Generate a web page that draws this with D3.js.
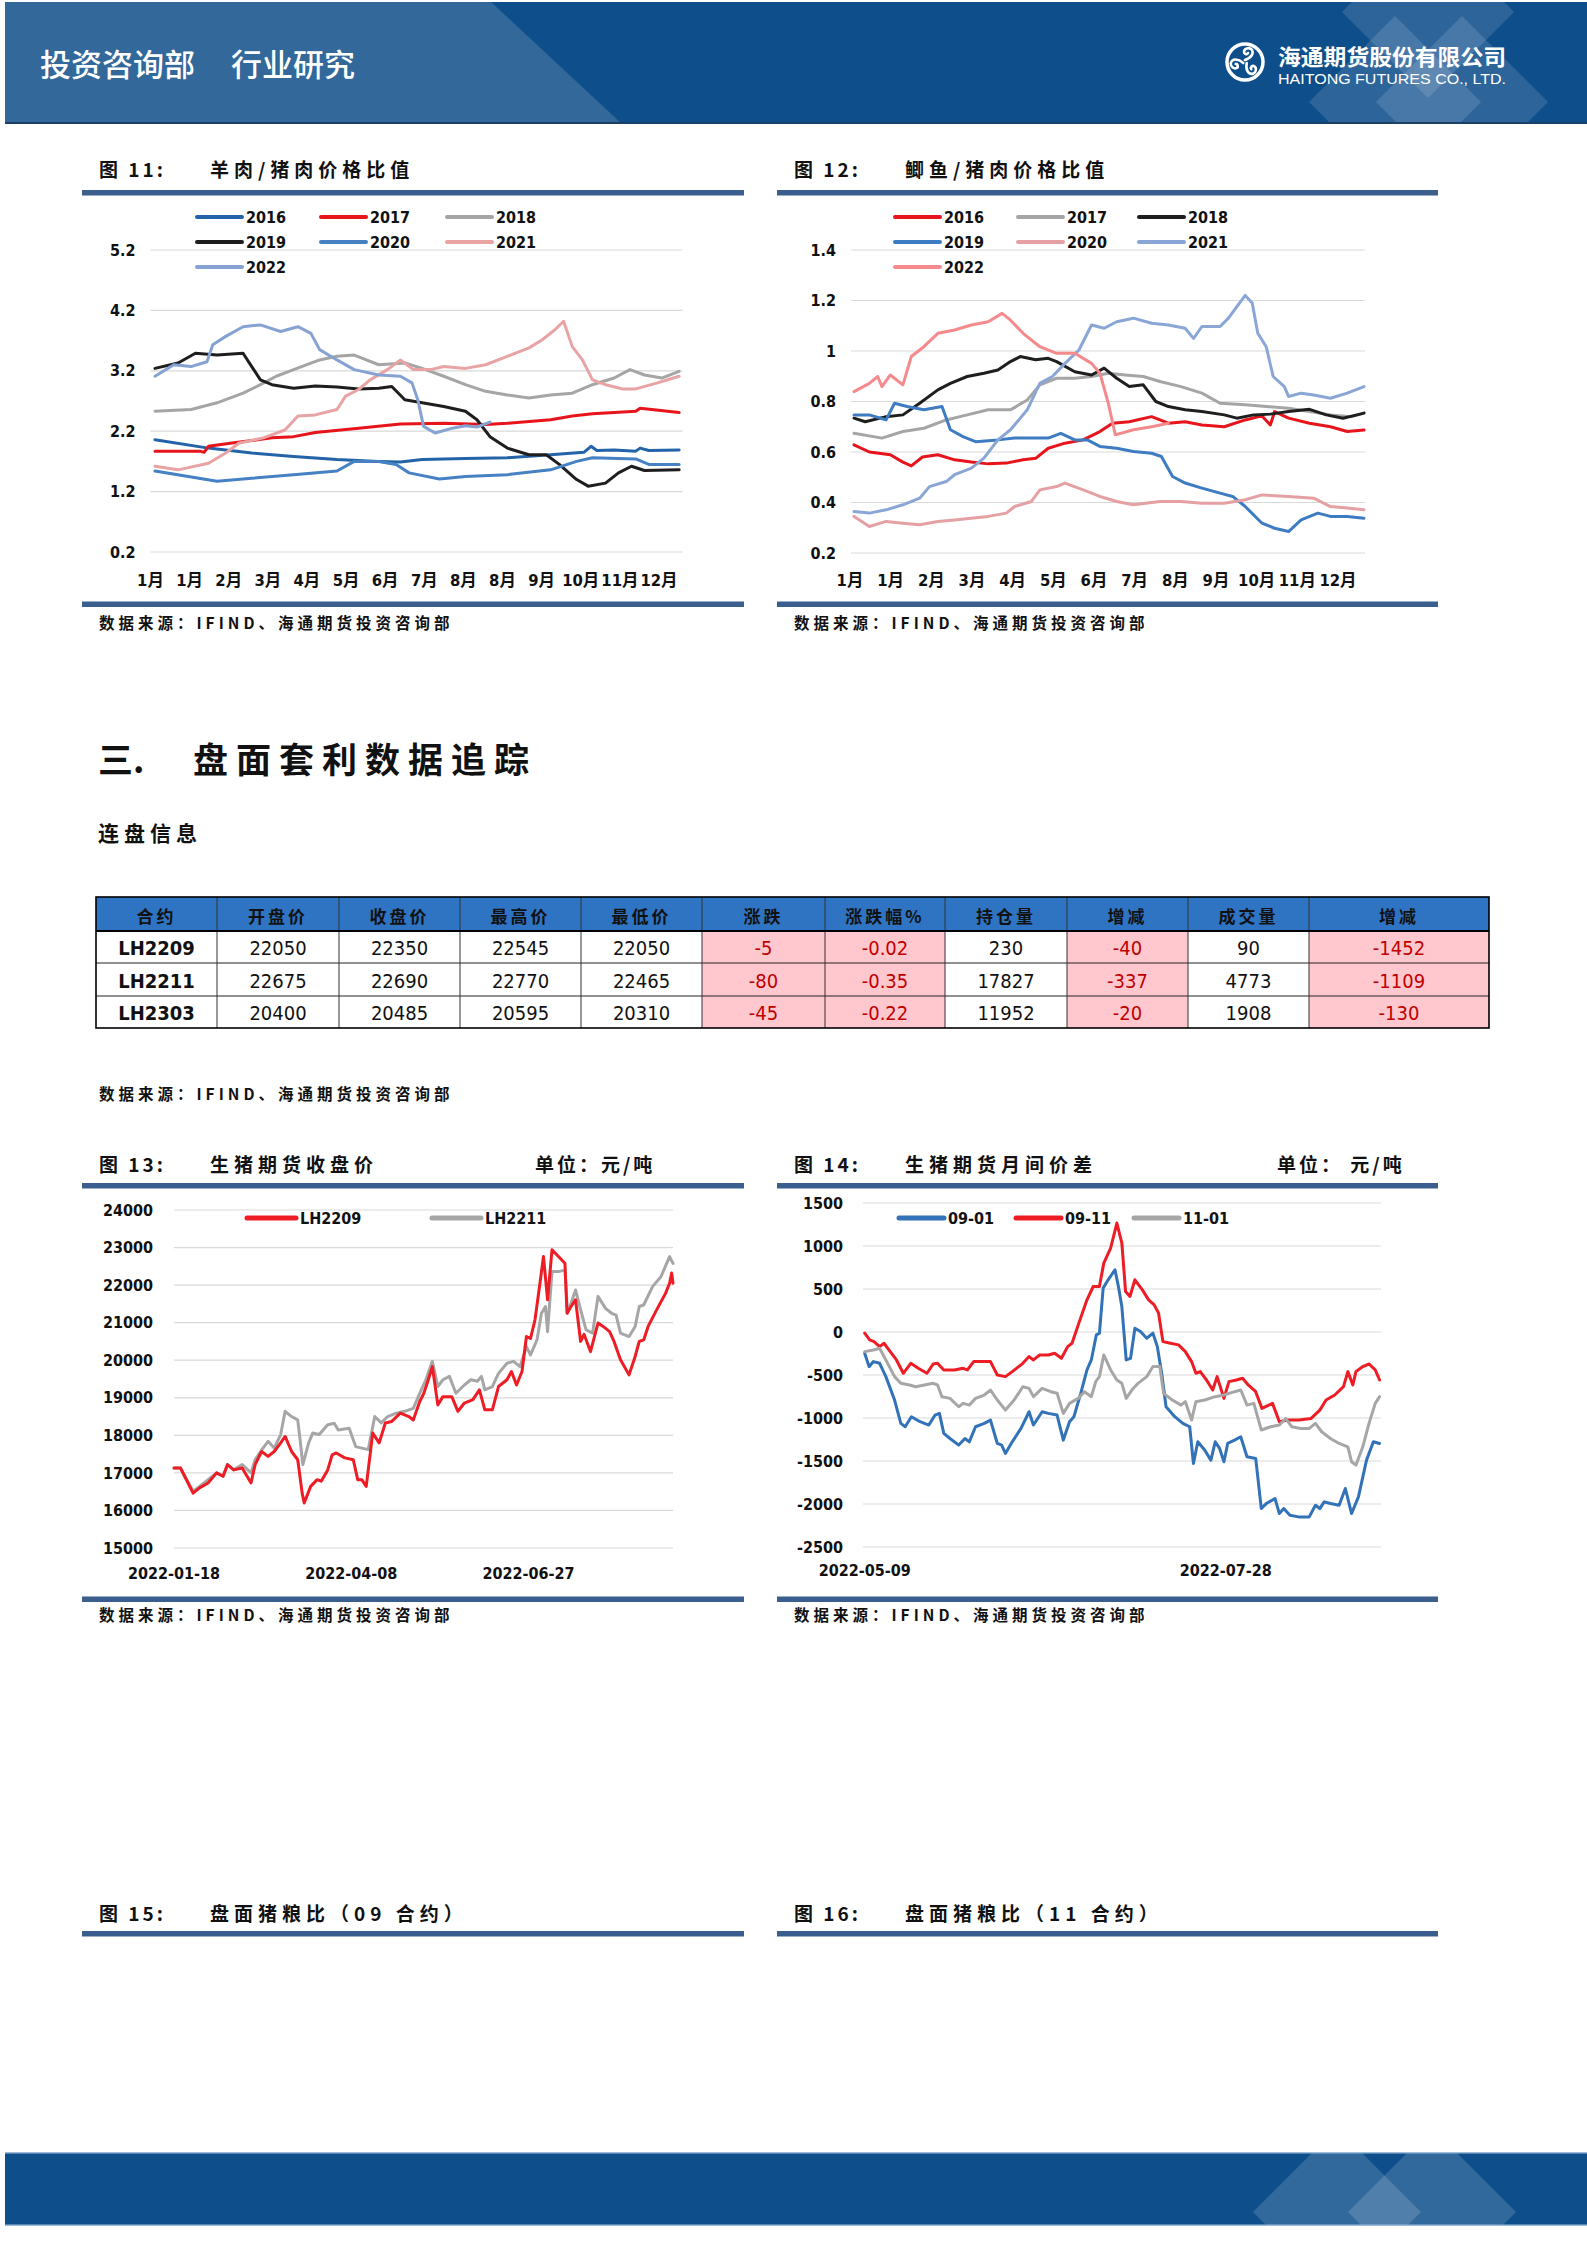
<!DOCTYPE html>
<html><head><meta charset="utf-8">
<script src="https://cdn.jsdelivr.net/npm/d3@7"></script>
<style>
body{margin:0;background:#fff}
svg{display:block}
</style>
</head><body>
<svg id="page" width="1587" height="2245"></svg>
<script>
// ================= DATA =================
// Fig 11: mutton / pork price ratio, [day of year, value]
const mutYears = ["2016","2017","2018","2019","2020","2021","2022"];
const mut2016 = [[0,2.06],[37,1.92],[67,1.84],[96,1.78],[126,1.73],[155,1.70],[170,1.69],[185,1.73],[215,1.75],[244,1.76],[274,1.81],[297,1.85],[302,1.95],[306,1.88],[318,1.89],[333,1.87],[336,1.92],[342,1.88],[363,1.89]];
const mut2017 = [[0,1.87],[31,1.87],[34,1.85],[37,1.95],[52,2.0],[81,2.09],[96,2.11],[111,2.18],[141,2.25],[170,2.32],[200,2.33],[229,2.31],[244,2.33],[274,2.39],[289,2.45],[303,2.49],[333,2.53],[336,2.58],[363,2.51]];
const mut2018 = [[0,2.53],[25,2.56],[43,2.67],[61,2.83],[73,2.97],[84,3.11],[96,3.22],[114,3.38],[126,3.44],[138,3.46],[155,3.30],[173,3.33],[185,3.24],[200,3.11],[215,2.97],[229,2.86],[244,2.80],[259,2.75],[274,2.80],[289,2.83],[303,2.97],[318,3.08],[329,3.22],[339,3.13],[351,3.08],[363,3.19]];
const mut2019 = [[0,3.24],[16,3.33],[28,3.49],[43,3.46],[61,3.49],[67,3.27],[73,3.05],[81,2.97],[96,2.91],[111,2.95],[126,2.93],[141,2.90],[155,2.91],[164,2.94],[173,2.72],[185,2.67],[200,2.61],[215,2.53],[223,2.39],[232,2.11],[244,1.92],[259,1.81],[271,1.81],[280,1.65],[292,1.40],[300,1.29],[312,1.34],[321,1.51],[330,1.62],[339,1.55],[363,1.56]];
const mut2020 = [[0,1.54],[43,1.37],[67,1.42],[96,1.48],[126,1.54],[138,1.70],[155,1.70],[167,1.65],[176,1.51],[197,1.41],[215,1.45],[244,1.48],[274,1.56],[292,1.70],[303,1.76],[333,1.74],[342,1.65],[363,1.65]];
const mut2021 = [[0,1.62],[16,1.56],[37,1.67],[49,1.84],[58,2.0],[75,2.09],[90,2.22],[99,2.45],[111,2.47],[126,2.56],[132,2.78],[141,2.89],[149,3.05],[161,3.22],[170,3.38],[179,3.22],[191,3.22],[200,3.27],[215,3.24],[229,3.30],[244,3.44],[259,3.58],[268,3.71],[277,3.88],[283,4.02],[289,3.60],[296,3.38],[303,3.05],[312,2.97],[324,2.90],[333,2.90],[348,3.0],[363,3.11]];
const mut2022 = [[0,3.11],[13,3.30],[25,3.27],[36,3.35],[40,3.63],[49,3.77],[61,3.93],[73,3.96],[87,3.85],[99,3.93],[108,3.82],[114,3.55],[126,3.38],[138,3.22],[155,3.13],[170,3.11],[178,3.0],[182,2.72],[186,2.28],[194,2.17],[206,2.25],[215,2.29],[223,2.27],[232,2.35]];
const mutTicks = [0.2,1.2,2.2,3.2,4.2,5.2];
const mutMonths = ["1月","1月","2月","3月","4月","5月","6月","7月","8月","8月","9月","10月","11月","12月"];

// Fig 12: crucian carp / pork price ratio
const carpYears = ["2016","2017","2018","2019","2020","2021","2022"];
const carp2016 = [[0,0.628],[11,0.60],[26,0.589],[35,0.56],[41,0.545],[49,0.58],[60,0.589],[72,0.569],[84,0.56],[96,0.553],[109,0.556],[121,0.569],[130,0.575],[139,0.615],[151,0.635],[164,0.648],[176,0.681],[185,0.714],[197,0.72],[213,0.74],[225,0.714],[237,0.72],[249,0.707],[265,0.70],[280,0.727],[292,0.743],[298,0.707],[301,0.76],[311,0.734],[326,0.714],[341,0.70],[353,0.681],[365,0.687]];
const carp2017 = [[0,0.674],[20,0.655],[35,0.681],[50,0.694],[66,0.727],[81,0.747],[96,0.767],[112,0.767],[124,0.806],[133,0.866],[145,0.892],[158,0.892],[170,0.899],[182,0.912],[194,0.905],[207,0.899],[219,0.879],[234,0.859],[249,0.833],[262,0.793],[280,0.787],[295,0.78],[311,0.773],[341,0.747],[356,0.740],[365,0.754]];
const carp2018 = [[0,0.734],[8,0.72],[23,0.74],[35,0.747],[47,0.793],[60,0.846],[69,0.872],[81,0.899],[93,0.912],[103,0.925],[112,0.958],[119,0.978],[130,0.965],[139,0.971],[145,0.958],[158,0.918],[170,0.905],[179,0.932],[188,0.892],[197,0.859],[207,0.866],[216,0.80],[225,0.78],[237,0.767],[249,0.76],[265,0.747],[274,0.734],[286,0.747],[298,0.75],[311,0.76],[326,0.769],[338,0.747],[350,0.734],[360,0.747],[365,0.754]];
const carp2019 = [[0,0.747],[11,0.747],[23,0.727],[29,0.793],[38,0.78],[50,0.767],[63,0.78],[69,0.688],[78,0.661],[87,0.641],[103,0.648],[115,0.655],[139,0.655],[148,0.674],[158,0.648],[167,0.648],[176,0.622],[188,0.615],[200,0.602],[213,0.595],[220,0.582],[228,0.503],[237,0.477],[249,0.457],[262,0.437],[271,0.424],[280,0.384],[292,0.318],[301,0.298],[311,0.285],[320,0.331],[332,0.358],[341,0.345],[353,0.345],[365,0.338]];
const carp2020 = [[0,0.345],[11,0.305],[23,0.325],[35,0.318],[47,0.312],[60,0.325],[72,0.331],[84,0.338],[96,0.345],[109,0.358],[115,0.384],[127,0.404],[133,0.45],[145,0.463],[151,0.477],[164,0.45],[176,0.424],[188,0.404],[200,0.391],[219,0.404],[234,0.404],[249,0.397],[265,0.397],[280,0.411],[292,0.43],[311,0.424],[329,0.417],[341,0.384],[353,0.378],[365,0.371]];
const carp2021 = [[0,0.364],[11,0.358],[23,0.371],[35,0.391],[47,0.417],[54,0.463],[66,0.483],[72,0.51],[84,0.536],[93,0.576],[103,0.648],[112,0.688],[124,0.767],[133,0.872],[142,0.899],[151,0.951],[161,1.004],[170,1.103],[179,1.09],[188,1.116],[200,1.13],[213,1.11],[225,1.103],[237,1.09],[243,1.05],[249,1.097],[262,1.097],[268,1.13],[274,1.176],[280,1.22],[285,1.19],[289,1.07],[295,1.017],[300,0.899],[308,0.859],[311,0.82],[320,0.833],[329,0.826],[341,0.813],[353,0.833],[365,0.859]];
const carp2022 = [[0,0.839],[11,0.872],[17,0.899],[20,0.859],[26,0.905],[35,0.866],[41,0.978],[50,1.017],[60,1.07],[72,1.083],[84,1.103],[96,1.116],[106,1.149],[112,1.122],[121,1.07],[133,1.017],[145,0.991],[158,0.991],[170,0.951],[176,0.912],[182,0.793],[187,0.668],[200,0.688],[213,0.70],[225,0.714]];
const carpTicks = [0.2,0.4,0.6,0.8,1.0,1.2,1.4];
const carpMonths = ["1月","1月","2月","3月","4月","5月","6月","7月","8月","9月","10月","11月","12月"];

// Table: 连盘信息
const tableHeader = ["合约","开盘价","收盘价","最高价","最低价","涨跌","涨跌幅%","持仓量","增减","成交量","增减"];
const contracts = ["LH2209","LH2211","LH2303"];
const openPx = [22050,22675,20400];
const closePx = [22350,22690,20485];
const highPx = [22545,22770,20595];
const lowPx = [22050,22465,20310];
const priceChg = [-5,-80,-45];
const priceChgPct = ["-0.02","-0.35","-0.22"];
const openInt = [230,17827,11952];
const openIntChg = [-40,-337,-20];
const volume = [90,4773,1908];
const volumeChg = [-1452,-1109,-130];

// Fig 13: hog futures close, [trading-day index, price]
const futNames = ["LH2209","LH2211"];
const lh2209 = [[0,17130],[1.9,17130],[5.6,16460],[7.5,16600],[10,16730],[12.5,17000],[14.4,16910],[15.7,17220],[17.5,17080],[20,17130],[22.6,16730],[23.8,17220],[25.7,17570],[27.6,17440],[29.4,17570],[31.3,17800],[32.6,17970],[34.5,17570],[36.3,17350],[37.6,16460],[38.2,16200],[40.1,16640],[42,16820],[43.2,16780],[45.1,17080],[46.4,17480],[47.6,17530],[50.1,17400],[52.6,17350],[53.9,16820],[55.1,16820],[56.4,16640],[58.3,18060],[60.2,17800],[62,18330],[63.9,18370],[66.4,18590],[68.9,18500],[70.2,18410],[72.1,18900],[73.3,19120],[74.6,19480],[75.8,19830],[77.4,18810],[78.9,19030],[81.5,19030],[83.3,18640],[85.2,18860],[87.7,18950],[89.6,19210],[91.2,18680],[93.4,18680],[95.2,19300],[97.7,19480],[99,19700],[100.5,19340],[102.1,19700],[103.4,20630],[104.6,20580],[105.9,21070],[107.1,21870],[108.4,22760],[109.6,21610],[110.9,22940],[112.8,22760],[114.7,22580],[115.3,21250],[116.5,21430],[117.8,21610],[119.3,20500],[120.3,20690],[122.2,20230],[124.4,20990],[125.9,20900],[127.8,20760],[129.1,20500],[131,20010],[133.5,19610],[135.3,20100],[136.5,20500],[137.8,20540],[139.1,20900],[141.6,21340],[144.2,21780],[145.4,22050],[146,22320],[146.4,22050]];
const lh2211 = [[0,17130],[1.9,17130],[5.6,16510],[7.5,16640],[10,16820],[12.5,17000],[14.4,16910],[15.7,17220],[17.5,17080],[20,17220],[22.6,17000],[23.8,17350],[25.7,17610],[27.6,17840],[29.4,17660],[31.3,18020],[32.6,18640],[34.5,18500],[36.3,18410],[37,17880],[37.8,17220],[39.5,17800],[40.7,18060],[42.6,18020],[45.1,18280],[47,18320],[48.2,18140],[51.4,18190],[53.3,17700],[55.1,17660],[57,17620],[58.9,18500],[60.8,18330],[62.7,18500],[65.2,18590],[67.7,18640],[70.2,18720],[72.1,19120],[73.9,19480],[75.8,19970],[77.4,19300],[78.9,19480],[80.8,19570],[82.7,19120],[85.2,19340],[87.1,19480],[89,19440],[90.2,19570],[91.2,19210],[93.4,19300],[95.2,19650],[97.7,19920],[99.6,19970],[101.5,19830],[103.4,20360],[104.6,20140],[106.5,20540],[107.8,21250],[109,21430],[109.6,20760],[110.9,22360],[112.8,22360],[114.7,22400],[115.5,21250],[117.8,21870],[119.3,21340],[120.9,20810],[122.8,20720],[124.4,21700],[126.6,21380],[128.4,21250],[129.7,21200],[131,20720],[133.5,20630],[135.3,20900],[136.5,21430],[137.8,21470],[140.4,21960],[142.9,22230],[145.4,22760],[146.4,22580]];
const futTicks = [15000,16000,17000,18000,19000,20000,21000,22000,23000,24000];
const futDateIdx = [0,52,104];
const futDates = ["2022-01-18","2022-04-08","2022-06-27"];

// Fig 14: inter-month spreads
const sprNames = ["09-01","09-11","11-01"];
const spr0901 = [[0,-247],[0.7,-403],[1.4,-344],[2.4,-364],[3.4,-519],[4.8,-791],[5.8,-1063],[6.5,-1102],[7.5,-985],[8.9,-1043],[10.3,-1082],[11.3,-966],[12,-946],[12.7,-1179],[13.7,-1238],[15.1,-1315],[16.1,-1238],[16.8,-1277],[17.8,-1102],[19.2,-1063],[20.2,-1024],[21.3,-1296],[22,-1315],[22.6,-1412],[23.7,-1277],[25.1,-1121],[26.4,-927],[27.1,-1082],[28.5,-927],[29.5,-946],[30.9,-966],[31.9,-1257],[32.9,-1043],[33.6,-985],[34.7,-713],[35.7,-441],[36.4,-325],[37.2,-34],[37.7,-14],[38.3,510],[39.1,607],[40.2,724],[40.8,510],[41.3,296],[42,-325],[42.7,-306],[43.4,44],[44.3,5],[45.3,-73],[46.3,-14],[47,-170],[47.7,-480],[48.4,-869],[49.8,-985],[51.1,-1063],[52.2,-1102],[52.8,-1529],[53.5,-1277],[54.6,-1373],[55.6,-1490],[56.3,-1277],[57,-1354],[57.7,-1509],[58.3,-1296],[59.4,-1257],[60.4,-1218],[61.4,-1451],[62.8,-1470],[63.7,-2053],[64.5,-1995],[65.9,-1936],[66.6,-2111],[67.3,-2053],[68.3,-2131],[69.7,-2150],[71.4,-2150],[72.4,-2014],[73.1,-2053],[73.8,-1975],[74.8,-1995],[76.2,-2014],[77.2,-1820],[78.2,-2111],[79.3,-1917],[80.6,-1490],[81.7,-1277],[82.7,-1296]];
const spr0911 = [[0,-14],[0.8,-92],[1.5,-112],[2.4,-170],[3.1,-131],[4.1,-228],[5.1,-325],[6.2,-480],[7.4,-364],[8.6,-422],[10,-480],[11,-372],[11.7,-364],[12.7,-441],[14.4,-441],[15.8,-422],[16.5,-441],[17.5,-344],[20.2,-344],[21.3,-500],[22.6,-519],[23.7,-461],[25.4,-364],[26.4,-286],[27.1,-325],[28.1,-267],[29.5,-267],[30.5,-247],[31.6,-306],[32.6,-170],[33.3,-131],[34.3,83],[35.7,374],[36.7,529],[37.7,529],[38.4,801],[39.5,976],[40.5,1267],[41.3,1034],[41.9,471],[42.6,413],[43.4,607],[44.6,490],[45.6,374],[46.5,316],[47.2,219],[47.9,-112],[49.1,-131],[50.4,-150],[51.5,-228],[52.5,-344],[53.2,-480],[53.9,-461],[54.9,-558],[55.9,-675],[56.6,-519],[57.7,-772],[58.5,-577],[59.7,-558],[60.7,-538],[61.6,-616],[62.8,-694],[63.8,-888],[65.5,-830],[66.6,-1043],[67.9,-1024],[69.7,-1024],[71.7,-1005],[73.1,-908],[74.1,-791],[75.5,-733],[76.9,-636],[77.6,-461],[78.4,-616],[78.9,-461],[80,-402],[81,-372],[82,-441],[82.7,-558]];
const spr1101 = [[0,-228],[1.4,-209],[2.4,-189],[3.4,-325],[4.8,-519],[5.8,-597],[7.2,-616],[8.2,-636],[9.6,-616],[11,-597],[11.7,-616],[12.4,-752],[13.7,-772],[15.1,-869],[15.8,-830],[16.8,-850],[17.8,-772],[19.2,-733],[20.2,-675],[21.3,-791],[22.6,-908],[24,-791],[25.4,-636],[26.4,-655],[27.1,-752],[28.5,-655],[29.9,-694],[30.9,-713],[31.9,-946],[32.9,-830],[34.3,-772],[35.3,-694],[36.4,-752],[37.1,-578],[37.7,-519],[38.4,-267],[39.5,-441],[40.5,-558],[41.3,-597],[42,-772],[42.9,-675],[43.9,-597],[45.3,-519],[46.3,-402],[47.4,-402],[48,-713],[49.4,-791],[50.8,-850],[51.5,-810],[52.5,-1024],[53.2,-810],[54.6,-791],[56.3,-752],[57.7,-733],[59.4,-694],[60.4,-675],[61.4,-850],[62.5,-830],[63.7,-1140],[65.2,-1102],[66.6,-1082],[67.6,-1005],[68.6,-1102],[70,-1121],[71.4,-1121],[72.4,-1063],[73.4,-1160],[74.8,-1238],[76.2,-1296],[77.6,-1335],[78.2,-1509],[78.9,-1548],[80,-1335],[81,-1063],[82,-830],[82.7,-752]];
const sprTicks = [-2500,-2000,-1500,-1000,-500,0,500,1000,1500];
const sprDateIdx = [0,58];
const sprDates = ["2022-05-09","2022-07-28"];

// ================= DRAWING =================
const svg = d3.select('#page');
const NUM = '"DejaVu Sans Condensed","DejaVu Sans","Noto Sans CJK SC",sans-serif';
const CN = '"Noto Sans CJK SC","Noto Sans CJK JP",sans-serif';
const RULE = '#3a5f8e';
const GRID = '#d9d9d9';
const SRC = '数据来源：IFIND、海通期货投资咨询部';

function diamondPts(cx, cy, r){ return [[cx,cy-r],[cx+r,cy],[cx,cy+r],[cx-r,cy]].map(p=>p.join(',')).join(' '); }

// ----- header band -----
const defs = svg.append('defs');
defs.append('clipPath').attr('id','hdrClip').append('rect').attr('x',5).attr('y',2).attr('width',1582).attr('height',122);
defs.append('clipPath').attr('id','ftrClip').append('rect').attr('x',5).attr('y',2153).attr('width',1582).attr('height',72);
const hdr = svg.append('g');
hdr.append('rect').attr('x',5).attr('y',2).attr('width',1582).attr('height',122).attr('fill','#0e4f8b');
hdr.append('polygon').attr('points','5,2 491,2 622,124 5,124').attr('fill','#33689b');
const hd = hdr.append('g').attr('clip-path','url(#hdrClip)');
[[1395,102],[1462,102],[1428,12]].forEach(c=>hd.append('polygon').attr('points',diamondPts(c[0],c[1],86)).attr('fill','#ffffff').attr('fill-opacity',0.13));
hdr.append('rect').attr('x',5).attr('y',122).attr('width',1582).attr('height',2).attr('fill','#1c3f66');
hdr.append('text').attr('x',40).attr('y',62).attr('dominant-baseline','central').attr('fill','#fff')
  .style('font-family',CN).style('font-size','31px').style('font-weight',500).text('投资咨询部');
hdr.append('text').attr('x',231).attr('y',62).attr('dominant-baseline','central').attr('fill','#fff')
  .style('font-family',CN).style('font-size','31px').style('font-weight',500).text('行业研究');
// logo
const logo = hdr.append('g').attr('transform','translate(1245,62)');
logo.append('circle').attr('r',18).attr('fill','none').attr('stroke','#fff').attr('stroke-width',3.5);
[0,120,240].forEach(a=>{
  logo.append('path').attr('transform',`rotate(${a})`).attr('d','M0,-2 C6,-4 10,-9 6,-13 C3,-15 -1,-13 -1,-10 C-1,-8 2,-7 3,-9')
    .attr('fill','none').attr('stroke','#fff').attr('stroke-width',2.6).attr('stroke-linecap','round');
});
hdr.append('text').attr('x',1278).attr('y',55).attr('dominant-baseline','central').attr('fill','#fff')
  .attr('textLength',228).attr('lengthAdjust','spacingAndGlyphs')
  .style('font-family',CN).style('font-size','22px').style('font-weight',700).text('海通期货股份有限公司');
hdr.append('text').attr('x',1278).attr('y',84).attr('fill','#fff')
  .attr('textLength',228).attr('lengthAdjust','spacingAndGlyphs')
  .style('font-family','"Liberation Sans",Arial,sans-serif').style('font-size','15px').text('HAITONG FUTURES CO., LTD.');

// ----- footer band -----
const ftr = svg.append('g');
ftr.append('rect').attr('x',5).attr('y',2153).attr('width',1582).attr('height',72).attr('fill','#0e4f8b');
const fd = ftr.append('g').attr('clip-path','url(#ftrClip)');
[[1337,2212],[1432,2212]].forEach(c=>fd.append('polygon').attr('points',diamondPts(c[0],c[1],84)).attr('fill','#ffffff').attr('fill-opacity',0.15));
ftr.append('rect').attr('x',5).attr('y',2152).attr('width',1582).attr('height',1.5).attr('fill','#9dbcdc');
ftr.append('rect').attr('x',5).attr('y',2224.5).attr('width',1582).attr('height',1.5).attr('fill','#9dbcdc');

// ----- helpers -----
function figTitle(xNum, xText, y, num, text){
  svg.append('text').attr('x',xNum).attr('y',y).attr('dominant-baseline','central').attr('fill','#111')
    .style('font-family',CN).style('font-size','19px').style('font-weight',700).style('letter-spacing','3px').text('图 '+num+':');
  svg.append('text').attr('x',xText).attr('y',y).attr('dominant-baseline','central').attr('fill','#111')
    .style('font-family',CN).style('font-size','19px').style('font-weight',700).style('letter-spacing','5px').text(text);
}
function rule(x0,x1,y,h){ svg.append('rect').attr('x',x0).attr('y',y).attr('width',x1-x0).attr('height',h).attr('fill',RULE); }
function source(x,y){
  svg.append('text').attr('x',x).attr('y',y).attr('dominant-baseline','central').attr('fill','#111')
    .style('font-family',CN).style('font-size','15.5px').style('font-weight',700).style('letter-spacing','4px').text(SRC);
}
function grid(g, y, ticks, x0, x1){
  g.selectAll(null).data(ticks).join('line')
    .attr('x1',x0).attr('x2',x1).attr('y1',d=>y(d)).attr('y2',d=>y(d))
    .attr('stroke',GRID).attr('stroke-width',1.2);
}
function yAxis(g, y, ticks, xAt, pad, fmt){
  const ax = g.append('g').attr('transform',`translate(${xAt},0)`)
    .call(d3.axisLeft(y).tickValues(ticks).tickSize(0).tickPadding(pad).tickFormat(fmt));
  ax.select('.domain').remove();
  ax.selectAll('text').style('font-family',NUM).style('font-size','16px').style('font-weight',700).attr('fill','#111');
}
function lines(g, series, colors, x, y, w){
  const ln = d3.line().x(d=>x(d[0])).y(d=>y(d[1]));
  series.forEach((s,i)=>g.append('path').datum(s).attr('d',ln).attr('fill','none')
    .attr('stroke',colors[i]).attr('stroke-width',w).attr('stroke-linejoin','round').attr('stroke-linecap','round'));
}
function legend(g, names, colors, colX, rowY, len, w){
  names.forEach((n,i)=>{
    const cx = colX[i%colX.length], cy = rowY[Math.floor(i/colX.length)];
    g.append('line').attr('x1',cx).attr('x2',cx+len).attr('y1',cy).attr('y2',cy)
      .attr('stroke',colors[i]).attr('stroke-width',w).attr('stroke-linecap','round');
    g.append('text').attr('x',cx+len+4).attr('y',cy).attr('dominant-baseline','central').attr('fill','#111')
      .style('font-family',NUM).style('font-size','16px').style('font-weight',700).text(n);
  });
}
function monthLabels(g, labels, x0, x1, y){
  const xs = d3.scalePoint().domain(d3.range(labels.length)).range([x0,x1]);
  g.selectAll(null).data(labels).join('text')
    .attr('x',(d,i)=>xs(i)).attr('y',y).attr('text-anchor','middle').attr('dominant-baseline','central')
    .attr('fill','#111').style('font-family',NUM).style('font-size','16.5px').style('font-weight',700).text(d=>d);
}
const plainNum = d => String(d);

// ----- Fig 11 -----
figTitle(99,210,168,'11','羊肉/猪肉价格比值');
rule(82,744,190,5.5); rule(82,744,601.5,5.5);
source(99,622);
{
  const g = svg.append('g');
  const x = d3.scaleLinear().domain([0,365]).range([155,682]);
  const y = d3.scaleLinear().domain([0.2,5.2]).range([552,250]);
  grid(g,y,mutTicks,150.5,682.5);
  yAxis(g,y,mutTicks,150.5,15,d3.format('.1f'));
  monthLabels(g,mutMonths,150.5,659,580);
  const colors = ['#2363a8','#e8141b','#a5a5a5','#1e1e1e','#4581c3','#e8a3a5','#86a2d2'];
  lines(g,[mut2016,mut2017,mut2018,mut2019,mut2020,mut2021,mut2022],colors,x,y,3);
  legend(g,mutYears,colors,[197,321,447],[217,242,267],45,4);
}

// ----- Fig 12 -----
figTitle(794,905,168,'12','鲫鱼/猪肉价格比值');
rule(777,1438,190,5.5); rule(777,1438,601.5,5.5);
source(794,622);
{
  const g = svg.append('g');
  const x = d3.scaleLinear().domain([0,365]).range([854,1364]);
  const y = d3.scaleLinear().domain([0.2,1.4]).range([553,250]);
  grid(g,y,carpTicks,851,1365);
  yAxis(g,y,carpTicks,851,15,d=>(d===1?'1':d3.format('.1f')(d)));
  monthLabels(g,carpMonths,850,1338,580);
  const colors = ['#e8141b','#a5a5a5','#1e1e1e','#3d7cc2','#e4a0a2','#8aa6d6','#f58a8c'];
  lines(g,[carp2016,carp2017,carp2018,carp2019,carp2020,carp2021,carp2022],colors,x,y,3);
  legend(g,carpYears,colors,[895,1018,1139],[217,242,267],45,4);
}

// ----- Section heading -----
svg.append('text').attr('x',98).attr('y',757).attr('dominant-baseline','central').attr('fill','#111')
  .style('font-family',CN).style('font-size','35px').style('font-weight',700).text('三.');
svg.append('text').attr('x',193).attr('y',757).attr('dominant-baseline','central').attr('fill','#111')
  .style('font-family',CN).style('font-size','35px').style('font-weight',700).style('letter-spacing','8px').text('盘面套利数据追踪');
svg.append('text').attr('x',98).attr('y',832).attr('dominant-baseline','central').attr('fill','#111')
  .style('font-family',CN).style('font-size','21px').style('font-weight',700).style('letter-spacing','5px').text('连盘信息');

// ----- Table -----
{
  const g = svg.append('g');
  const colX = [96,217,339,460,581,702,825,945,1067,1188,1309,1489];
  const rowY = [897,931,963,996,1028];
  const pinkCols = new Set([5,6,8,10]);
  const rows = contracts.map((c,i)=>[c,openPx[i],closePx[i],highPx[i],lowPx[i],priceChg[i],priceChgPct[i],openInt[i],openIntChg[i],volume[i],volumeChg[i]]);
  g.append('rect').attr('x',colX[0]).attr('y',rowY[0]).attr('width',colX[11]-colX[0]).attr('height',rowY[1]-rowY[0]).attr('fill','#2e74c2');
  rows.forEach((r,ri)=>r.forEach((v,ci)=>{
    if(pinkCols.has(ci)) g.append('rect').attr('x',colX[ci]).attr('y',rowY[ri+1]).attr('width',colX[ci+1]-colX[ci]).attr('height',rowY[ri+2]-rowY[ri+1]).attr('fill','#ffc7ce');
  }));
  rowY.slice(2,4).forEach(yy=>g.append('line').attr('x1',colX[0]).attr('x2',colX[11]).attr('y1',yy).attr('y2',yy).attr('stroke','#222').attr('stroke-width',1));
  colX.slice(1,11).forEach(xx=>g.append('line').attr('x1',xx).attr('x2',xx).attr('y1',rowY[0]).attr('y2',rowY[4]).attr('stroke','#333').attr('stroke-width',1));
  g.append('line').attr('x1',colX[0]).attr('x2',colX[11]).attr('y1',rowY[1]).attr('y2',rowY[1]).attr('stroke','#000').attr('stroke-width',2.2);
  g.append('rect').attr('x',colX[0]).attr('y',rowY[0]).attr('width',colX[11]-colX[0]).attr('height',rowY[4]-rowY[0]).attr('fill','none').attr('stroke','#000').attr('stroke-width',1.6);
  tableHeader.forEach((h,ci)=>g.append('text').attr('x',(colX[ci]+colX[ci+1])/2).attr('y',(rowY[0]+rowY[1])/2+1)
    .attr('text-anchor','middle').attr('dominant-baseline','central').attr('fill','#111')
    .style('font-family',CN).style('font-size','17px').style('font-weight',700).style('letter-spacing','3px').text(h));
  rows.forEach((r,ri)=>r.forEach((v,ci)=>{
    g.append('text').attr('x',(colX[ci]+colX[ci+1])/2).attr('y',(rowY[ri+1]+rowY[ri+2])/2+1)
      .attr('text-anchor','middle').attr('dominant-baseline','central')
      .attr('fill',pinkCols.has(ci)?'#c00000':'#111')
      .style('font-family',NUM).style('font-size','20px').style('font-weight',ci===0?700:400).text(v);
  }));
}
source(99,1093);

// ----- Fig 13 -----
figTitle(99,210,1163,'13','生猪期货收盘价');
svg.append('text').attr('x',535).attr('y',1163).attr('dominant-baseline','central').attr('fill','#111')
  .style('font-family',CN).style('font-size','19px').style('font-weight',700).style('letter-spacing','3px').text('单位：元/吨');
rule(82,744,1183,5.5); rule(82,744,1596.5,5.5);
source(99,1614);
{
  const g = svg.append('g');
  const x = d3.scaleLinear().domain([0,146.4]).range([174,673]);
  const y = d3.scaleLinear().domain([15000,24000]).range([1548,1210]);
  grid(g,y,futTicks,174,673);
  yAxis(g,y,futTicks,174,21,plainNum);
  g.selectAll(null).data(futDates).join('text').attr('x',(d,i)=>x(futDateIdx[i])).attr('y',1573)
    .attr('text-anchor','middle').attr('dominant-baseline','central').attr('fill','#111')
    .style('font-family',NUM).style('font-size','16px').style('font-weight',700).text(d=>d);
  const colors = ['#ee1c25','#a6a6a6'];
  // LH2211 (grey) drawn first, LH2209 (red) on top
  lines(g,[lh2211,lh2209],[colors[1],colors[0]],x,y,3);
  legend(g,futNames,colors,[247,432],[1218],49,5);
}

// ----- Fig 14 -----
figTitle(794,905,1163,'14','生猪期货月间价差');
svg.append('text').attr('x',1277).attr('y',1163).attr('dominant-baseline','central').attr('fill','#111')
  .style('font-family',CN).style('font-size','19px').style('font-weight',700).style('letter-spacing','3px').text('单位：  元/吨');
rule(777,1438,1183,5.5); rule(777,1438,1596.5,5.5);
source(794,1614);
{
  const g = svg.append('g');
  const x = d3.scaleLinear().domain([0,82.7]).range([864.7,1379.6]);
  const y = d3.scaleLinear().domain([-2500,1500]).range([1547,1203]);
  grid(g,y,sprTicks,863,1381);
  yAxis(g,y,sprTicks,863,20,plainNum);
  g.selectAll(null).data(sprDates).join('text').attr('x',(d,i)=>x(sprDateIdx[i])).attr('y',1570)
    .attr('text-anchor','middle').attr('dominant-baseline','central').attr('fill','#111')
    .style('font-family',NUM).style('font-size','16px').style('font-weight',700).text(d=>d);
  const colors = ['#3272b8','#ee1c25','#a6a6a6'];
  lines(g,[spr0901,spr0911,spr1101],colors,x,y,3);
  legend(g,sprNames,colors,[899,1016,1134],[1218],45,5);
}

// ----- Fig 15 / 16 headers -----
figTitle(99,210,1912,'15','盘面猪粮比（09 合约）');
rule(82,744,1931,5.5);
figTitle(794,905,1912,'16','盘面猪粮比（11 合约）');
rule(777,1438,1931,5.5);
</script>
</body></html>
